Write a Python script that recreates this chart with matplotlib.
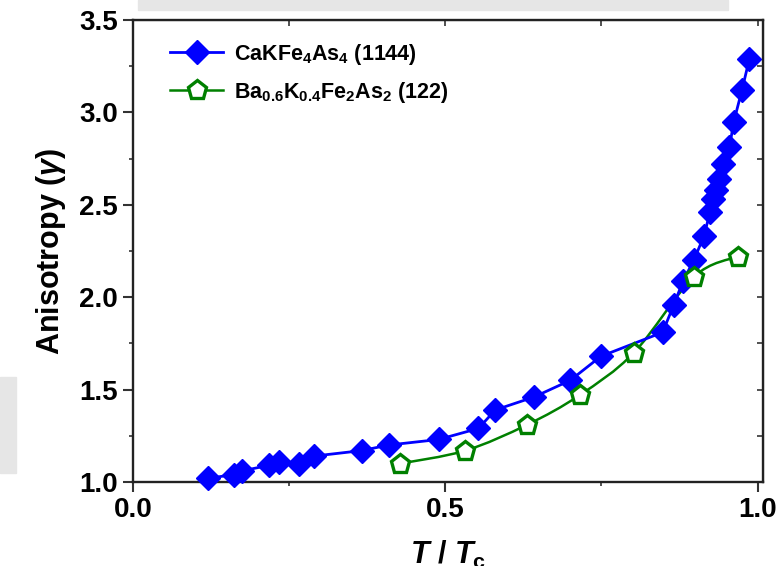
import numpy as np
import matplotlib
matplotlib.use("Agg")
import matplotlib.pyplot as plt
from matplotlib.path import Path
from matplotlib.patches import PathPatch, Rectangle
from matplotlib.lines import Line2D
from matplotlib.ticker import MultipleLocator, FormatStrFormatter

plt.rcParams['font.family'] = ['Liberation Sans', 'DejaVu Sans']
plt.rcParams['font.weight'] = 'bold'
plt.rcParams['axes.labelweight'] = 'bold'
plt.rcParams['mathtext.fontset'] = 'custom'
plt.rcParams['mathtext.rm'] = 'Liberation Sans:bold'
plt.rcParams['mathtext.bf'] = 'Liberation Sans:bold'
plt.rcParams['mathtext.it'] = 'Liberation Sans:italic:bold'
plt.rcParams['mathtext.default'] = 'rm'

# CaKFe4As4 (1144)
t_1144 = [0.120, 0.161, 0.174, 0.217, 0.233, 0.265, 0.289, 0.366, 0.409, 0.489,
          0.553, 0.580, 0.642, 0.700, 0.749, 0.848, 0.866, 0.881, 0.898, 0.914,
          0.924, 0.929, 0.933, 0.938, 0.945, 0.955, 0.962, 0.975, 0.987]
g_1144 = [1.02, 1.04, 1.06, 1.09, 1.11, 1.10, 1.14, 1.17, 1.20, 1.23,
          1.29, 1.39, 1.46, 1.55, 1.68, 1.81, 1.96, 2.09, 2.20, 2.33,
          2.46, 2.53, 2.58, 2.64, 2.72, 2.81, 2.95, 3.12, 3.29]

# Ba0.6K0.4Fe2As2 (122)
t_122 = [0.428, 0.532, 0.631, 0.715, 0.802, 0.898, 0.968]
g_122 = [1.10, 1.17, 1.31, 1.47, 1.70, 2.11, 2.22]

label_1144 = r'CaKFe$_4$As$_4$ (1144)'
label_122 = r'Ba$_{0.6}$K$_{0.4}$Fe$_2$As$_2$ (122)'

blue = '#0000ff'
green = '#008000'

fig = plt.figure(figsize=(7.84, 5.66), dpi=100)
ax = fig.add_axes([0.170, 0.1484, 0.803, 0.8163])

# stray grey boxes from the source screenshot
fig.patches.append(Rectangle((138 / 784, 1 - 9.5 / 566), 590 / 784, 9.5 / 566,
                             transform=fig.transFigure, color='#e6e6e6', zorder=0))
fig.patches.append(Rectangle((0, 1 - 473 / 566), 16 / 784, 96 / 566,
                             transform=fig.transFigure, color='#e6e6e6', zorder=0))

ax.plot(t_1144, g_1144, color=blue, lw=2, marker='D', ms=12, mec=blue,
        mfc=blue, zorder=3, clip_on=False)


def smooth_path(xs, ys):
    # Catmull-Rom curve drawn through the points as cubic bezier segments
    p = np.column_stack([xs, ys])
    verts = [p[0]]
    codes = [Path.MOVETO]
    for i in range(len(p) - 1):
        p0 = p[i - 1] if i > 0 else p[i]
        p3 = p[i + 2] if i + 2 < len(p) else p[i + 1]
        c1 = p[i] + (p[i + 1] - p0) / 6
        c2 = p[i + 1] - (p3 - p[i]) / 6
        verts += [c1, c2, p[i + 1]]
        codes += [Path.CURVE4] * 3
    return Path(verts, codes)


ax.add_patch(PathPatch(smooth_path(t_122, g_122), fill=False, ec=green,
                       lw=1.8, zorder=2))
ax.plot(t_122, g_122, ls='none', marker='p', ms=14, mfc='white', mec=green,
        mew=2.4, zorder=4)

ax.set_xlim(0, 1.0085)
ax.set_ylim(1.0, 3.5)
ax.xaxis.set_major_locator(MultipleLocator(0.5))
ax.xaxis.set_minor_locator(MultipleLocator(0.25))
ax.yaxis.set_major_locator(MultipleLocator(0.5))
ax.yaxis.set_minor_locator(MultipleLocator(0.25))
ax.xaxis.set_major_formatter(FormatStrFormatter('%.1f'))
ax.yaxis.set_major_formatter(FormatStrFormatter('%.1f'))
ax.tick_params(which='major', direction='out', length=7, width=1.5,
               labelsize=20, color='#333333', pad=4)
ax.tick_params(which='minor', direction='out', length=3, width=1.2,
               color='#333333')
for s in ax.spines.values():
    s.set_linewidth(1.7)
    s.set_color('#222222')

top = ax.secondary_xaxis('top')
top.xaxis.set_major_locator(MultipleLocator(0.25))
top.tick_params(direction='in', length=4, width=1.2, labeltop=False, color='#333333')
right = ax.secondary_yaxis('right')
right.yaxis.set_major_locator(MultipleLocator(0.25))
right.tick_params(direction='in', length=4, width=1.2, labelright=False, color='#333333')

ax.set_ylabel(r'Anisotropy ($\mathit{\gamma}$)', fontsize=22, labelpad=8,
              fontweight='bold')
ax.set_xlabel(r'$\mathit{T}$ $\mathit{/}$ $\mathit{T}_\mathrm{c}$', fontsize=22,
              labelpad=11, fontweight='bold')

handles = [
    Line2D([], [], color=blue, lw=2, marker='D', ms=12, mfc=blue, mec=blue),
    Line2D([], [], color=green, lw=1.8, marker='p', ms=14, mfc='white',
           mec=green, mew=2.4),
]
ax.legend(handles, [label_1144, label_122], loc='upper left',
          bbox_to_anchor=(0.027, 0.995), frameon=False, fontsize=15.5,
          handlelength=2.5, handletextpad=0.5, labelspacing=0.6)

fig.savefig('out.png', dpi=100)
